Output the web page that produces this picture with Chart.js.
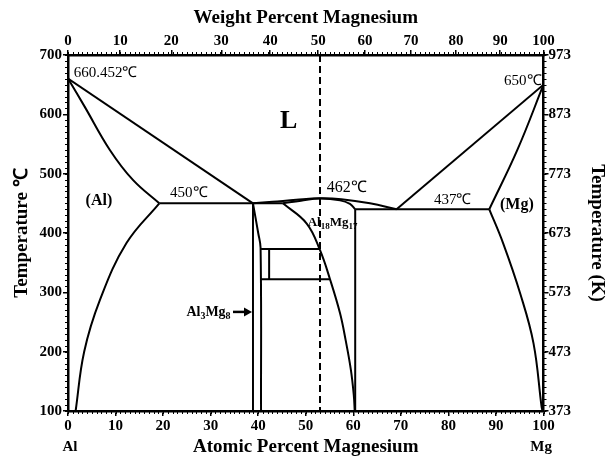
<!DOCTYPE html>
<html>
<head>
<meta charset="utf-8">
<script src="https://cdn.jsdelivr.net/npm/chart.js@4.4.1/dist/chart.umd.min.js"></script>
<style>
  html, body { margin: 0; padding: 0; background: #fff; }
  #wrap { width: 613px; height: 460px; }
</style>
</head>
<body>
<div id="wrap"><canvas id="al-mg-phase"></canvas></div>
<script>
// axis ticks
var celsiusTicks = [100, 200, 300, 400, 500, 600, 700];
var kelvinTicks = [373, 473, 573, 673, 773, 873, 973];
var weightTickLabels = [0, 10, 20, 30, 40, 50, 60, 70, 80, 90, 100];
// atomic % position of each weight % tick
var weightTickAt = [0, 10.98, 21.72, 32.24, 42.53, 52.61, 62.48, 72.15, 81.62, 90.90, 100];

// phase boundaries: atomic % Mg / temperature in C
var alLiquidusX = [0, 38.9];
var alLiquidusT = [660.452, 450];
var alSolidusX = [0, 3.5, 8.8, 13.7, 19.2];
var alSolidusT = [660.452, 613, 540, 489, 450];
var alSolvusX = [19.2, 12.3, 6.7, 3.4, 1.6];
var alSolvusT = [450, 383, 287, 200, 100];
var eutectic450X = [19.2, 45.2];
var eutectic450T = [450, 450];
var betaLeftX = [38.9, 38.9];
var betaLeftT = [450, 100];
var betaRightX = [38.9, 40.0, 40.5, 40.6];
var betaRightT = [450, 400, 375, 100];
var epsTopX = [40.6, 53.0];
var epsTopT = [373, 373];
var epsBottomX = [40.6, 55.1];
var epsBottomT = [322, 322];
var epsSideX = [42.3, 42.3];
var epsSideT = [373, 322];
var gammaLeftX = [45.2, 50.2, 53.0, 55.1, 57.2, 58.4, 59.5, 60.1, 60.3];
var gammaLeftT = [450, 416, 371, 322, 265, 219, 169, 127, 100];
var gammaRightX = [60.4, 60.4];
var gammaRightT = [440, 100];
var gammaSolidusX = [45.2, 49, 53, 57.2, 59.3, 60.4];
var gammaSolidusT = [450, 454.5, 458, 455, 449, 440];
var midLiquidusX = [38.9, 43, 48, 53, 57.5, 63.5, 69.1];
var midLiquidusT = [450, 452.5, 456, 458.5, 457, 450, 440];
var eutectic437X = [60.4, 88.6];
var eutectic437T = [440, 440];
var mgLiquidusX = [69.1, 100];
var mgLiquidusT = [440, 650];
var mgSolidusX = [88.6, 94.5, 100];
var mgSolidusT = [440, 540, 650];
var mgSolvusX = [88.6, 91.5, 95.1, 97.9, 99.6, 99.8];
var mgSolvusT = [440, 383, 298, 214, 107, 100];
var fiftyWtX = [53, 53];
var fiftyWtT = [700, 100];

var serif = "'Liberation Serif', 'Times New Roman', serif";

function curve(xs, ts, smooth, dash) {
  return {
    data: xs.map(function (v, i) { return { x: v, y: ts[i] }; }),
    showLine: true,
    borderColor: '#000',
    borderWidth: 2,
    borderDash: dash || [],
    pointRadius: 0,
    tension: smooth ? 0.4 : 0,
    fill: false
  };
}

// text in the plot, placed in data units; parts with 1 are subscripts
var phaseLabels = [
  { parts: [['660.452℃', 0]], x: 1.2, t: 669.6, align: 'left', size: 15, bold: false },
  { parts: [['650℃', 0]], x: 99.6, t: 656, align: 'right', size: 15, bold: false },
  { parts: [['L', 0]], x: 46.4, t: 589, align: 'center', size: 26, bold: true },
  { parts: [['(Al)', 0]], x: 6.5, t: 454, align: 'center', size: 16, bold: true },
  { parts: [['450℃', 0]], x: 25.4, t: 467, align: 'center', size: 15, bold: false },
  { parts: [['462℃', 0]], x: 58.6, t: 477, align: 'center', size: 16, bold: false },
  { parts: [['437℃', 0]], x: 80.9, t: 455, align: 'center', size: 15, bold: false },
  { parts: [['(Mg)', 0]], x: 94.4, t: 447, align: 'center', size: 16, bold: true },
  { parts: [['Al', 0], ['18', 1], ['Mg', 0], ['17', 1]], x: 50.4, t: 417, align: 'left', size: 13, bold: true },
  { parts: [['Al', 0], ['3', 1], ['Mg', 0], ['8', 1]], x: 34.2, t: 267, align: 'right', size: 14, bold: true }
];
var arrowFrom = { x: 34.7, t: 267 };
var arrowTo = { x: 38.7, t: 267 };

function fontFor(size, bold) {
  return (bold ? 'bold ' : '') + size + 'px ' + serif;
}

var decorations = {
  id: 'decorations',
  afterDraw: function (chart) {
    var ctx = chart.ctx;
    var area = chart.chartArea;
    var sx = chart.scales.x;
    var sy = chart.scales.y;
    ctx.save();

    // minor ticks
    ctx.strokeStyle = '#000';
    ctx.lineWidth = 1;
    ctx.beginPath();
    for (var v = 0; v <= 100; v += 1) {
      var px = Math.round(sx.getPixelForValue(v)) + 0.5;
      ctx.moveTo(px, area.bottom); ctx.lineTo(px, area.bottom + 3);
      ctx.moveTo(px, area.top); ctx.lineTo(px, area.top - 3);
    }
    for (var t = 100; t <= 700; t += 10) {
      var py = Math.round(sy.getPixelForValue(t)) + 0.5;
      ctx.moveTo(area.left, py); ctx.lineTo(area.left - 3, py);
      ctx.moveTo(area.right, py); ctx.lineTo(area.right + 3, py);
    }
    ctx.stroke();

    // labels inside the diagram
    ctx.fillStyle = '#000';
    ctx.textBaseline = 'middle';
    phaseLabels.forEach(function (lab) {
      var subSize = Math.round(lab.size * 0.7);
      var widths = lab.parts.map(function (p) {
        ctx.font = fontFor(p[1] ? subSize : lab.size, lab.bold);
        return ctx.measureText(p[0]).width;
      });
      var total = widths.reduce(function (a, b) { return a + b; }, 0);
      var x0 = sx.getPixelForValue(lab.x);
      if (lab.align === 'center') x0 -= total / 2;
      if (lab.align === 'right') x0 -= total;
      var y0 = sy.getPixelForValue(lab.t);
      ctx.textAlign = 'left';
      lab.parts.forEach(function (p, i) {
        ctx.font = fontFor(p[1] ? subSize : lab.size, lab.bold);
        ctx.fillText(p[0], x0, p[1] ? y0 + lab.size * 0.3 : y0);
        x0 += widths[i];
      });
    });

    // arrow to Al3Mg8
    var ax0 = sx.getPixelForValue(arrowFrom.x);
    var ax1 = sx.getPixelForValue(arrowTo.x);
    var ay = sy.getPixelForValue(arrowFrom.t);
    ctx.lineWidth = 2.5;
    ctx.beginPath();
    ctx.moveTo(ax0, ay); ctx.lineTo(ax1 - 6, ay);
    ctx.stroke();
    ctx.beginPath();
    ctx.moveTo(ax1, ay); ctx.lineTo(ax1 - 8, ay - 4.5); ctx.lineTo(ax1 - 8, ay + 4.5);
    ctx.closePath();
    ctx.fill();

    // element names under the bottom axis
    ctx.font = fontFor(15, true);
    ctx.textAlign = 'center';
    ctx.fillText('Al', sx.getPixelForValue(0.4), area.bottom + 36);
    ctx.fillText('Mg', sx.getPixelForValue(99.5), area.bottom + 36);
    ctx.restore();
  }
};

var tickFont = { family: serif, weight: 'bold', size: 15 };
var titleFont = { family: serif, weight: 'bold', size: 19 };
var tickGrid = { drawOnChartArea: false, color: '#000', tickLength: 5, lineWidth: 1.5 };
var axisBorder = { color: '#000', width: 2.5 };

new Chart(document.getElementById('al-mg-phase'), {
  type: 'scatter',
  data: {
    datasets: [
      curve(alLiquidusX, alLiquidusT, false),
      curve(alSolidusX, alSolidusT, true),
      curve(alSolvusX, alSolvusT, true),
      curve(eutectic450X, eutectic450T, false),
      curve(betaLeftX, betaLeftT, false),
      curve(betaRightX, betaRightT, true),
      curve(epsTopX, epsTopT, false),
      curve(epsBottomX, epsBottomT, false),
      curve(epsSideX, epsSideT, false),
      curve(gammaLeftX, gammaLeftT, true),
      curve(gammaRightX, gammaRightT, false),
      curve(gammaSolidusX, gammaSolidusT, true),
      curve(midLiquidusX, midLiquidusT, true),
      curve(eutectic437X, eutectic437T, false),
      curve(mgLiquidusX, mgLiquidusT, false),
      curve(mgSolidusX, mgSolidusT, true),
      curve(mgSolvusX, mgSolvusT, true),
      curve(fiftyWtX, fiftyWtT, false, [7, 4])
    ]
  },
  options: {
    responsive: true,
    maintainAspectRatio: false,
    animation: false,
    layout: { padding: 0 },
    plugins: {
      legend: { display: false },
      tooltip: { enabled: false }
    },
    scales: {
      x: {
        type: 'linear', position: 'bottom', min: 0, max: 100,
        ticks: { stepSize: 10, color: '#000', font: tickFont, padding: 1, maxRotation: 0 },
        grid: tickGrid, border: axisBorder,
        title: { display: true, text: 'Atomic Percent Magnesium', color: '#000', font: titleFont, padding: { top: 0, bottom: 2 } },
        afterFit: function (scale) { scale.height = 49; }
      },
      xTop: {
        type: 'linear', position: 'top', min: 0, max: 100,
        afterBuildTicks: function (scale) {
          scale.ticks = weightTickAt.map(function (v) { return { value: v }; });
        },
        ticks: {
          autoSkip: false, color: '#000', font: tickFont, padding: 0, maxRotation: 0,
          callback: function (value, index) { return weightTickLabels[index]; }
        },
        grid: tickGrid, border: axisBorder,
        title: { display: true, text: 'Weight Percent Magnesium', color: '#000', font: titleFont, padding: { top: 7, bottom: 0 } },
        afterFit: function (scale) { scale.height = 55; }
      },
      y: {
        type: 'linear', position: 'left', min: 100, max: 700,
        afterBuildTicks: function (scale) {
          scale.ticks = celsiusTicks.map(function (v) { return { value: v }; });
        },
        ticks: { color: '#000', font: tickFont, padding: 1 },
        grid: tickGrid, border: axisBorder,
        title: { display: true, text: 'Temperature ℃', color: '#000', font: titleFont, padding: { top: 11, bottom: 0 } },
        afterFit: function (scale) { scale.width = 68; }
      },
      yK: {
        type: 'linear', position: 'right', min: 373, max: 973,
        afterBuildTicks: function (scale) {
          scale.ticks = kelvinTicks.map(function (v) { return { value: v }; });
        },
        ticks: { color: '#000', font: tickFont, padding: 0 },
        grid: tickGrid, border: axisBorder,
        title: { display: true, text: 'Temperature (K)', color: '#000', font: titleFont, padding: { top: 5, bottom: 0 } },
        afterFit: function (scale) { scale.width = 69.5; }
      }
    }
  },
  plugins: [decorations]
});
</script>
</body>
</html>
